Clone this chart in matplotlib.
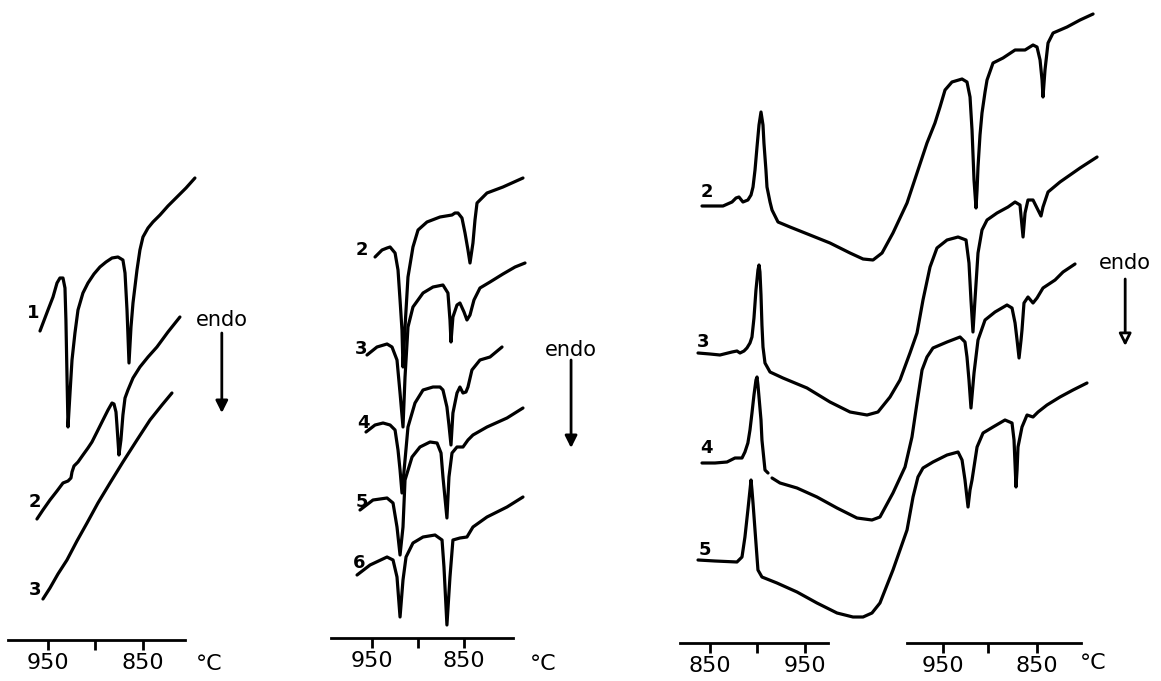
import numpy as np
import matplotlib
matplotlib.use("Agg")
import matplotlib.pyplot as plt

plt.rcParams['font.family'] = ['DejaVu Sans']

# ---- panel 1: temperature (C) vs DTA signal (arb. units, 0 = axis line)
p1_c1_T = [958.4, 950.0, 944.7, 940.5, 937.4, 934.2, 932.1, 931.1, 930.0, 928.9,
           926.8, 924.7, 921.6, 918.4, 913.2, 907.9, 901.6, 895.3, 888.9, 882.6,
           876.3, 871.1, 868.9, 866.8, 864.7, 862.6, 860.5, 856.3, 853.2, 850.0,
           844.7, 839.5, 832.1, 823.7, 814.2, 804.7, 795.3]
p1_c1_v = [309, 330, 343, 357, 362, 362, 352, 320, 265, 213,
           247, 280, 307, 330, 347, 357, 366, 373, 378, 382,
           383, 380, 367, 330, 277, 313, 337, 370, 390, 403,
           412, 418, 425, 434, 443, 452, 462]
p1_c2_T = [961.6, 955.3, 947.9, 940.5, 934.2, 928.9, 925.8, 924.7, 922.6, 918.4,
           913.2, 907.9, 903.7, 898.4, 892.1, 886.8, 882.6, 880.5, 878.4, 877.4,
           875.3, 873.2, 871.1, 868.9, 865.8, 860.5, 853.2, 844.7, 835.3, 823.7, 811.1]
p1_c2_v = [121, 130, 140, 149, 157, 159, 162, 168, 174, 178,
           185, 192, 198, 208, 220, 230, 237, 236, 228, 215,
           185, 200, 225, 242, 250, 262, 273, 283, 293, 308, 323]
p1_c3_T = [955.3, 947.9, 939.5, 930.0, 919.5, 908.9, 897.4, 884.7, 871.1, 856.3,
           842.6, 830.0, 819.5]
p1_c3_v = [41, 52, 66, 80, 99, 117, 137, 157, 178, 200, 220, 235, 247]

# ---- panel 2
p2_c2_T = [946.4, 938.8, 933.4, 930.1, 924.7, 921.5, 919.3, 917.2, 916.1, 913.9,
           910.7, 905.3, 899.8, 890.1, 876.0, 863.0, 859.8, 856.5, 852.2, 848.9,
           845.7, 843.5, 840.3, 838.1, 835.9, 825.1, 807.8, 786.1]
p2_c2_v = [381, 388, 390, 391, 385, 368, 338, 308, 271, 311,
           361, 391, 408, 416, 421, 423, 425, 425, 420, 405,
           388, 375, 395, 418, 435, 445, 451, 460]
p2_c3_T = [955.1, 944.3, 933.4, 928.0, 922.6, 919.3, 916.1, 913.9, 910.7, 905.3,
           894.4, 883.6, 872.8, 867.4, 865.2, 864.1, 862.0, 857.6, 854.4, 850.0,
           846.8, 843.5, 839.2, 832.7, 821.8, 807.8, 794.7, 783.9]
p2_c3_v = [283, 291, 294, 291, 278, 245, 211, 261, 311, 331,
           345, 351, 353, 345, 318, 296, 321, 333, 335, 326,
           318, 323, 338, 350, 356, 364, 371, 375]
p2_c4_T = [956.2, 946.4, 937.7, 930.1, 924.7, 921.5, 919.3, 917.2, 913.9, 910.7,
           903.1, 894.4, 883.6, 876.0, 872.8, 868.5, 866.3, 864.1, 862.0, 857.6,
           854.4, 851.1, 847.9, 845.7, 841.4, 832.7, 821.8, 808.8]
p2_c4_v = [206, 213, 215, 213, 208, 188, 168, 145, 178, 211,
           235, 248, 251, 251, 248, 231, 213, 193, 225, 245,
           251, 245, 246, 251, 268, 278, 281, 291]
p2_c5_T = [962.7, 948.6, 933.4, 926.9, 922.6, 919.3, 916.1, 913.9, 906.3, 897.7,
           886.8, 879.2, 874.9, 872.8, 868.5, 866.3, 863.0, 857.6, 851.1, 845.7,
           840.3, 825.1, 803.4, 786.1]
p2_c5_v = [128, 138, 140, 135, 111, 83, 111, 158, 181, 191,
           196, 195, 185, 161, 120, 161, 185, 191, 191, 198,
           203, 211, 220, 230]
p2_c6_T = [965.9, 951.8, 933.4, 926.9, 922.6, 919.3, 916.1, 912.8, 905.3, 894.4,
           881.4, 873.8, 871.7, 868.5, 865.2, 862.0, 854.4, 846.8, 840.3, 825.1,
           803.4, 786.1]
p2_c6_v = [63, 73, 81, 78, 61, 21, 58, 81, 95, 101,
           103, 98, 71, 13, 61, 98, 100, 101, 111, 121,
           131, 141]

# ---- panel 3: heating then cooling, x = chart position in heating-scale C
p3_c2_s = [841.6, 850, 863.7, 873.2, 877.4, 880.5, 884.7, 889.9, 893.2, 895.3,
           897.4, 899.5, 901.6, 903.7, 905.8, 906.8, 908.9, 910, 913.2, 915.3,
           921.6, 934.2, 955.3, 976.3, 997.4, 1011.1, 1021.6, 1031.1, 1042.6, 1057.4,
           1067.9, 1078.4, 1086.8, 1092.1, 1097.4, 1104.7, 1115.3, 1120.5, 1123.7, 1125.8,
           1127.9, 1130, 1131.1, 1132.1, 1134.2, 1136.3, 1139.5, 1141.6, 1147.9, 1158.4,
           1171.1, 1181.6, 1190, 1194.2, 1197.4, 1199.5, 1200.5, 1202.6, 1205.8, 1211.1,
           1225.8, 1239.5, 1253.2]
p3_c2_v = [437, 437, 437, 441, 445, 446, 441, 443, 448, 456,
           473, 496, 518, 531, 518, 500, 473, 456, 441, 433,
           421, 416, 408, 400, 390, 384, 383, 390, 410, 440,
           470, 500, 520, 536, 553, 561, 564, 561, 546, 513,
           463, 435, 453, 476, 508, 530, 551, 563, 580, 585,
           593, 593, 598, 596, 583, 563, 546, 573, 600, 610,
           616, 623, 629]
p3_c3_s = [837.4, 850, 860.5, 873.2, 878.4, 881.6, 885.8, 888.9, 892.1, 894.2,
           896.3, 898.4, 900.5, 901.6, 902.6, 903.7, 904.7, 905.8, 907.9, 913.2,
           926.8, 952.1, 976.3, 997.4, 1015.3, 1026.8, 1039.5, 1050, 1060.5, 1067.9,
           1074.2, 1081.6, 1088.9, 1099.5, 1111.1, 1119.5, 1122.6, 1124.7, 1126.8, 1128.9,
           1132.1, 1136.3, 1141.6, 1152.1, 1163.7, 1171.1, 1176.3, 1179.5, 1181.6, 1184.7,
           1190, 1194.2, 1198.4, 1200.5, 1205.8, 1218.4, 1239.5, 1257.4]
p3_c3_v = [290, 289, 288, 291, 292, 290, 292, 295, 300, 306,
           325, 353, 373, 378, 371, 348, 318, 296, 280, 271,
           265, 255, 241, 231, 228, 231, 246, 263, 290, 310,
           343, 376, 395, 403, 406, 403, 380, 343, 311, 343,
           390, 413, 423, 430, 436, 441, 438, 406, 430, 443,
           443, 435, 427, 436, 451, 461, 475, 486]
p3_c4_s = [841.6, 855.3, 867.9, 876.3, 883.7, 886.8, 889.9, 892.1, 894.2, 896.3,
           898.4, 899.5, 900.5, 901.6, 903.7, 904.7, 907.9, 911.1, np.nan, 915.3,
           923.7, 941.6, 962.6, 983.7, 1004.7, 1020.5, 1028.9, 1042.6, 1055.3, 1062.6,
           1067.9, 1073.2, 1078.4, 1084.7, 1099.5, 1113.2, 1118.4, 1120.5, 1122.6, 1124.7,
           1126.8, 1127.9, 1132.1, 1139.5, 1150, 1162.6, 1167.9, 1171.1, 1173.2, 1175.3,
           1177.4, 1178.4, 1180.5, 1184.7, 1190, 1194.2, 1200.5, 1213.2, 1221.6, 1234.2]
p3_c4_v = [180, 180, 181, 185, 185, 191, 200, 213, 230, 248,
           263, 266, 258, 246, 223, 203, 173, 170, np.nan, 165,
           160, 155, 146, 135, 125, 123, 126, 150, 176, 206,
           240, 273, 286, 295, 301, 306, 301, 286, 263, 235,
           258, 270, 303, 323, 331, 338, 335, 320, 303, 285,
           303, 313, 340, 346, 340, 345, 355, 363, 371, 379]
p3_c5_s = [837.4, 855.3, 878.4, 883.7, 886.8, 889.9, 892.1, 893.2, 894.2, 895.3,
           898.4, 900.5, 904.7, 920.5, 941.6, 962.6, 983.7, 1000.5, 1011.1, 1020.5,
           1028.9, 1042.6, 1057.4, 1063.7, 1068.9, 1074.2, 1084.7, 1099.5, 1111.1, 1115.3,
           1118.4, 1121.6, 1123.7, 1125.8, 1131.1, 1137.4, 1147.9, 1160.5, 1167.9, 1170,
           1172.1, 1173.2, 1174.2, 1178.4, 1183.7, 1190, 1195.3, 1204.7, 1218.4, 1232.1,
           1246.8]
p3_c5_v = [83, 82, 81, 86, 106, 133, 153, 163, 153, 140,
           100, 73, 66, 60, 51, 40, 30, 26, 26, 30,
           40, 73, 113, 146, 166, 175, 181, 188, 191, 183,
           163, 136, 153, 163, 196, 210, 216, 223, 220, 203,
           156, 173, 196, 216, 228, 226, 231, 238, 246, 253,
           260]

# curve number labels (x, v, text)
p1_labels = [(965.8, 327, '1'), (963.7, 138, '2'), (963.7, 50, '3')]
p2_labels = [(960.5, 388, '2'), (961.0, 289, '3'), (959.4, 215, '4'),
             (960.5, 136, '5'), (963.8, 75, '6')]
p3_labels = [(846.8, 451, '2'), (842.6, 301, '3'), (846.8, 195, '4'), (844.7, 93, '5')]

tick_T = [950, 900, 850]
tick_txt = ['950', '', '850']
# cooling-scale temperatures in chart position of panel 3
cool_tick_s = [1095.3, 1142.5, 1194.2]

W, H = 1161, 681
fig = plt.figure(figsize=(W / 100, H / 100), dpi=100)
LW = 2.3
TXT = 16


def make_axes(px0, px1, xlim, ylim):
    ax = fig.add_axes([px0 / W, 0, (px1 - px0) / W, 1])
    ax.set_xlim(*xlim)
    ax.set_ylim(*ylim)
    ax.patch.set_visible(False)
    for side in ['top', 'left', 'right']:
        ax.spines[side].set_visible(False)
    ax.spines['bottom'].set_position(('data', 0))
    ax.spines['bottom'].set_linewidth(2)
    ax.set_yticks([])
    ax.tick_params(axis='x', direction='out', length=7, width=2, pad=2.5,
                   labelsize=TXT)
    return ax


def curve(ax, x, y):
    ax.plot(x, y, color='black', lw=LW, solid_joinstyle='round',
            solid_capstyle='round', clip_on=False)


def endo(ax, x, ytext, y0, y1, hollow=False):
    ax.text(x, ytext, 'endo', fontsize=15, ha='center', va='center')
    ax.annotate('', xy=(x, y1), xytext=(x, y0),
                arrowprops=dict(arrowstyle='-|>', lw=2, color='black',
                                fc='white' if hollow else 'black',
                                mutation_scale=18, shrinkA=0, shrinkB=0))


# panel 1
ax1 = make_axes(0, 260, (1000.5, 726.8), (-41, 640))
ax1.spines['bottom'].set_bounds(806, 992)
ax1.set_xticks(tick_T, tick_txt)
curve(ax1, p1_c1_T, p1_c1_v)
curve(ax1, p1_c2_T, p1_c2_v)
curve(ax1, p1_c3_T, p1_c3_v)
for x, y, t in p1_labels:
    ax1.text(x, y, t, fontsize=13, fontweight='bold', ha='center', va='center')
ax1.text(780, -24, '°C', fontsize=TXT, ha='center', va='center')
endo(ax1, 767, 320, 307, 227)

# panel 2
ax2 = make_axes(300, 640, (1027.7, 659.3), (-43, 638))
ax2.spines['bottom'].set_bounds(797, 994)
ax2.set_xticks(tick_T, tick_txt)
for x, y in [(p2_c2_T, p2_c2_v), (p2_c3_T, p2_c3_v), (p2_c4_T, p2_c4_v),
             (p2_c5_T, p2_c5_v), (p2_c6_T, p2_c6_v)]:
    curve(ax2, x, y)
for x, y, t in p2_labels:
    ax2.text(x, y, t, fontsize=13, fontweight='bold', ha='center', va='center')
ax2.text(764, -26, '°C', fontsize=TXT, ha='center', va='center')
endo(ax2, 734, 288, 278, 190)

# panel 3 (left axis: heating, right axis: cooling)
ax3 = make_axes(660, 1161, (797.4, 1324.7), (-38, 643))
ax3.spines['bottom'].set_bounds(818, 974)
ax3.set_xticks(tick_T[::-1], tick_txt[::-1])
ax3b = make_axes(660, 1161, (797.4, 1324.7), (-38, 641))
ax3b.spines['bottom'].set_bounds(1057, 1240)
ax3b.set_xticks(cool_tick_s, tick_txt)
for x, y in [(p3_c2_s, p3_c2_v), (p3_c3_s, p3_c3_v), (p3_c4_s, p3_c4_v),
             (p3_c5_s, p3_c5_v)]:
    curve(ax3, x, y)
for x, y, t in p3_labels:
    ax3.text(x, y, t, fontsize=13, fontweight='bold', ha='center', va='center')
ax3.text(1253, -20, '°C', fontsize=TXT, ha='center', va='center')
endo(ax3, 1287, 380, 364, 297, hollow=True)

fig.savefig('out.png', dpi=100)
